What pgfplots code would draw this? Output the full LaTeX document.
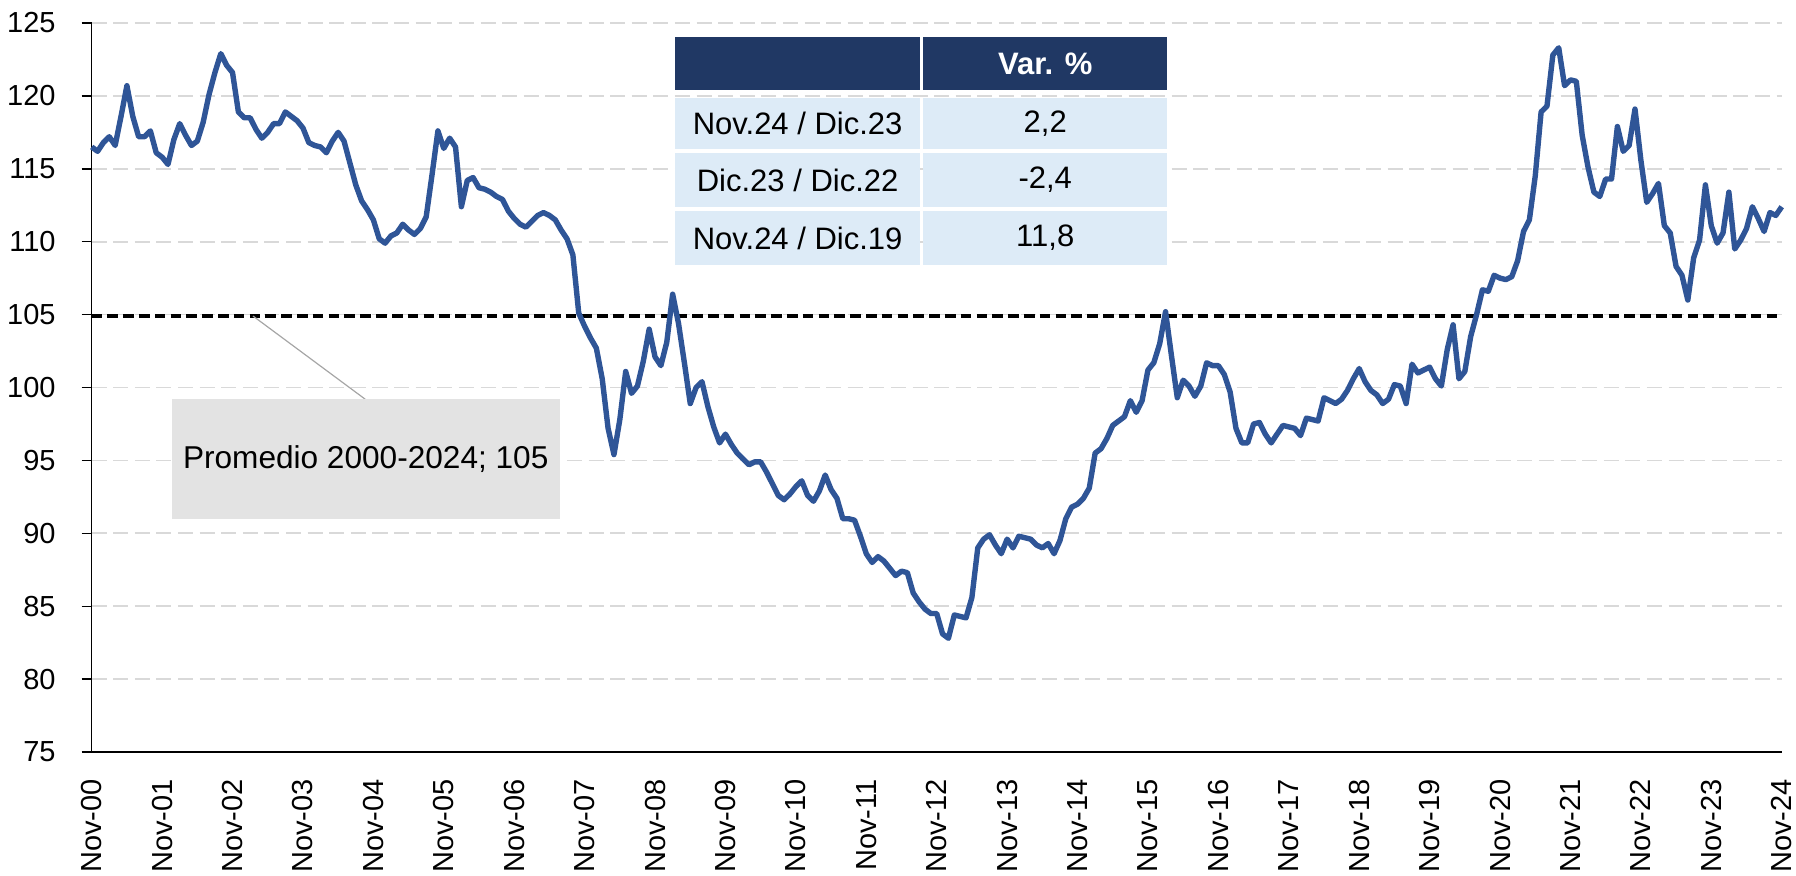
\documentclass[border=0pt]{standalone}
\usepackage{pgfplots}
\pgfplotsset{compat=1.18}
\usepackage{pgfplotstable}
\usepackage{fontspec}
\setmainfont{Liberation Sans}
\definecolor{lineblue}{RGB}{47,85,151}
\definecolor{navy}{RGB}{32,56,100}
\definecolor{lightblue}{RGB}{221,235,247}
\definecolor{gridgray}{RGB}{217,217,217}
\definecolor{boxgray}{RGB}{227,227,227}
\definecolor{leadgray}{RGB}{166,166,166}
\pgfplotstableread{
m v
0 116.5
1 116.2
2 116.8
3 117.2
4 116.6
5 118.6
6 120.7
7 118.6
8 117.2
9 117.2
10 117.6
11 116.1
12 115.8
13 115.3
14 117.0
15 118.1
16 117.3
17 116.6
18 116.9
19 118.2
20 120.1
21 121.6
22 122.9
23 122.1
24 121.6
25 118.9
26 118.5
27 118.5
28 117.7
29 117.1
30 117.5
31 118.1
32 118.1
33 118.9
34 118.6
35 118.3
36 117.8
37 116.8
38 116.6
39 116.5
40 116.1
41 116.9
42 117.5
43 116.9
44 115.4
45 113.9
46 112.8
47 112.2
48 111.5
49 110.2
50 109.9
51 110.4
52 110.6
53 111.2
54 110.8
55 110.5
56 110.9
57 111.7
58 114.6
59 117.6
60 116.4
61 117.1
62 116.5
63 112.4
64 114.2
65 114.4
66 113.7
67 113.6
68 113.4
69 113.1
70 112.9
71 112.1
72 111.6
73 111.2
74 111.0
75 111.4
76 111.8
77 112.0
78 111.8
79 111.5
80 110.8
81 110.2
82 109.1
83 105.1
84 104.2
85 103.4
86 102.7
87 100.6
88 97.2
89 95.4
90 97.8
91 101.1
92 99.6
93 100.1
94 101.8
95 104.0
96 102.1
97 101.5
98 103.1
99 106.4
100 104.4
101 101.7
102 98.9
103 100.0
104 100.4
105 98.7
106 97.3
107 96.2
108 96.8
109 96.1
110 95.5
111 95.1
112 94.7
113 94.9
114 94.9
115 94.2
116 93.4
117 92.6
118 92.3
119 92.7
120 93.2
121 93.6
122 92.6
123 92.2
124 92.9
125 94.0
126 93.0
127 92.4
128 91.0
129 91.0
130 90.9
131 89.8
132 88.6
133 88.0
134 88.4
135 88.1
136 87.6
137 87.1
138 87.4
139 87.3
140 85.9
141 85.3
142 84.8
143 84.5
144 84.5
145 83.1
146 82.8
147 84.4
148 84.3
149 84.2
150 85.6
151 89.0
152 89.6
153 89.9
154 89.2
155 88.6
156 89.6
157 89.0
158 89.8
159 89.7
160 89.6
161 89.2
162 89.0
163 89.3
164 88.6
165 89.5
166 91.0
167 91.8
168 92.0
169 92.4
170 93.1
171 95.5
172 95.8
173 96.5
174 97.4
175 97.7
176 98.0
177 99.1
178 98.3
179 99.1
180 101.2
181 101.7
182 103.0
183 105.2
184 102.2
185 99.3
186 100.5
187 100.1
188 99.4
189 100.1
190 101.7
191 101.5
192 101.5
193 100.9
194 99.7
195 97.2
196 96.2
197 96.2
198 97.5
199 97.6
200 96.8
201 96.2
202 96.8
203 97.4
204 97.3
205 97.2
206 96.7
207 97.9
208 97.8
209 97.7
210 99.3
211 99.1
212 98.9
213 99.2
214 99.8
215 100.6
216 101.3
217 100.4
218 99.8
219 99.5
220 98.9
221 99.2
222 100.2
223 100.1
224 98.9
225 101.6
226 101.0
227 101.2
228 101.4
229 100.6
230 100.1
231 102.6
232 104.3
233 100.6
234 101.1
235 103.5
236 105.0
237 106.7
238 106.6
239 107.7
240 107.5
241 107.4
242 107.6
243 108.7
244 110.7
245 111.5
246 114.5
247 118.9
248 119.3
249 122.8
250 123.3
251 120.7
252 121.1
253 121.0
254 117.3
255 115.1
256 113.4
257 113.1
258 114.3
259 114.3
260 117.9
261 116.2
262 116.6
263 119.1
264 115.6
265 112.7
266 113.3
267 114.0
268 111.1
269 110.6
270 108.3
271 107.7
272 106.0
273 108.9
274 110.1
275 113.9
276 111.1
277 109.9
278 110.6
279 113.4
280 109.5
281 110.1
282 110.9
283 112.4
284 111.6
285 110.7
286 112.0
287 111.8
288 112.4
}\datatable
\begin{document}
\begin{tikzpicture}
\begin{axis}[
  at={(0,0)}, anchor=south west,
  scale only axis, width=845pt, height=364.5pt,
  xmin=0, xmax=288, ymin=75, ymax=125,
  axis x line=bottom, axis y line=left,
  axis line style={-, line width=0.7pt, black},
  xtick={0,12,...,288},
  xticklabels={Nov-00,Nov-01,Nov-02,Nov-03,Nov-04,Nov-05,Nov-06,Nov-07,Nov-08,Nov-09,Nov-10,Nov-11,Nov-12,Nov-13,Nov-14,Nov-15,Nov-16,Nov-17,Nov-18,Nov-19,Nov-20,Nov-21,Nov-22,Nov-23,Nov-24},
  x tick style={draw=none},
  xticklabel style={font=\fontsize{14.5}{17}\selectfont, inner sep=0pt, yshift=-8.5pt, rotate=90, anchor=east},
  ytick={75,80,...,125},
  y tick style={line width=0.7pt, black},
  tick align=outside, major tick length=5pt,
  yticklabel style={xshift=-9.5pt, font=\fontsize{14.5}{17}\selectfont},
  /pgf/number format/assume math mode=true,
  ymajorgrids,
  major grid style={gridgray, line width=0.85pt, dash pattern=on 7.5pt off 3.3pt},
  clip=false,
]
\addplot[black, line width=1.8pt, dash pattern=on 5.3pt off 2.6pt, forget plot] coordinates {(0,104.9) (288,104.9)};
\addplot[lineblue, line width=2.7pt, line join=round, no marks] table[x=m, y=v] {\datatable};
% leader line and label box
\draw[leadgray, line width=0.6pt] (axis cs:27.5,104.9) -- (axis cs:46.6,99.2);
\fill[boxgray] (axis cs:13.6,99.2) rectangle (axis cs:79.8,91.0);
\node[font=\fontsize{15.8}{18}\selectfont, anchor=center] at (axis cs:46.7,95.1) {Promedio 2000-2024; 105};
% table
\fill[navy] (axis cs:99.45,124.04) rectangle (axis cs:141.2,120.4);
\fill[navy] (axis cs:141.7,124.04) rectangle (axis cs:183.3,120.4);
\fill[lightblue] (axis cs:99.45,119.86) rectangle (axis cs:141.2,116.36);
\fill[lightblue] (axis cs:141.7,119.86) rectangle (axis cs:183.3,116.36);
\fill[lightblue] (axis cs:99.45,116.08) rectangle (axis cs:141.2,112.38);
\fill[lightblue] (axis cs:141.7,116.08) rectangle (axis cs:183.3,112.38);
\fill[lightblue] (axis cs:99.45,112.11) rectangle (axis cs:141.2,108.4);
\fill[lightblue] (axis cs:141.7,112.11) rectangle (axis cs:183.3,108.4);
\node[font=\bfseries\fontsize{15.5}{18}\selectfont, text=white] at (axis cs:162.5,122.22) {Var. \%};
\node[font=\fontsize{15.5}{18}\selectfont] at (axis cs:120.3,118.11) {Nov.24 / Dic.23};
\node[font=\fontsize{15.5}{18}\selectfont] at (axis cs:162.5,118.11) {2,2};
\node[font=\fontsize{15.5}{18}\selectfont] at (axis cs:120.3,114.23) {Dic.23 / Dic.22};
\node[font=\fontsize{15.5}{18}\selectfont] at (axis cs:162.5,114.23) {-2,4};
\node[font=\fontsize{15.5}{18}\selectfont] at (axis cs:120.3,110.25) {Nov.24 / Dic.19};
\node[font=\fontsize{15.5}{18}\selectfont] at (axis cs:162.5,110.25) {11,8};
\end{axis}
\pgfresetboundingbox
\path (-45.85pt,-61.5pt) rectangle (852.15pt,376pt);
\end{tikzpicture}
\end{document}
